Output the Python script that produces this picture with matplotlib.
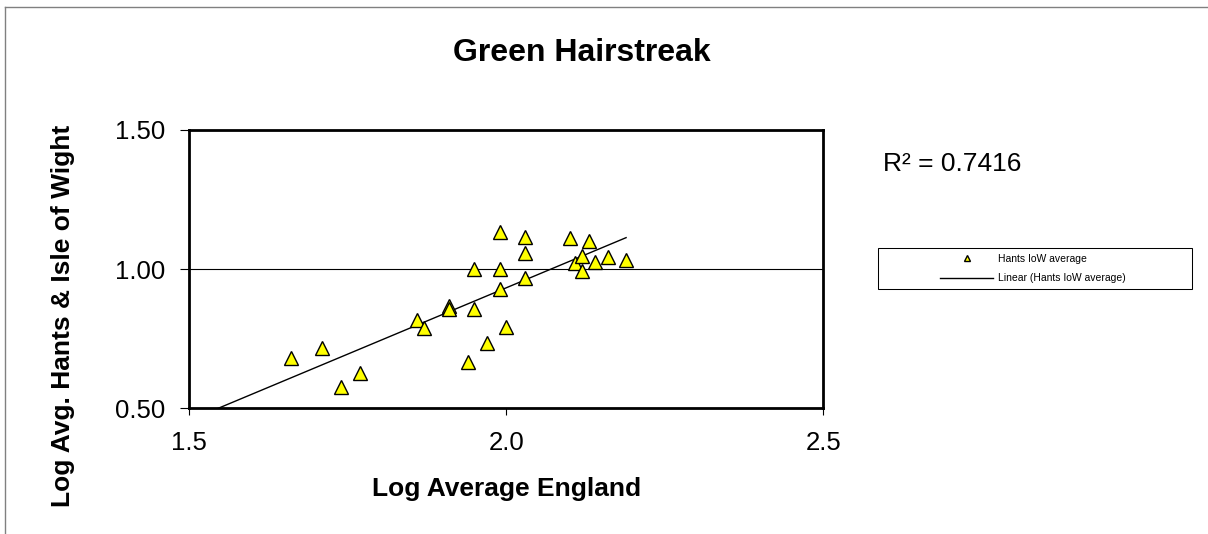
import matplotlib
matplotlib.use('Agg')
import matplotlib.pyplot as plt
import matplotlib.ticker as ticker
from matplotlib.lines import Line2D
from matplotlib.patches import Rectangle
import numpy as np

plt.rcParams['font.family'] = ['Liberation Sans', 'DejaVu Sans']

# Values
log_avg_england = [1.660, 1.709, 1.740, 1.769, 1.859, 1.870, 1.910, 1.910, 1.940,
                   1.949, 1.949, 1.970, 1.990, 1.990, 1.990, 2.000, 2.030, 2.030,
                   2.030, 2.100, 2.108, 2.119, 2.120, 2.130, 2.140, 2.160, 2.189]
log_avg_hants = [0.680, 0.716, 0.578, 0.626, 0.817, 0.787, 0.869, 0.856, 0.665,
                 1.001, 0.857, 0.736, 1.135, 1.001, 0.928, 0.793, 1.114, 1.057,
                 0.967, 1.111, 1.021, 1.047, 0.994, 1.101, 1.025, 1.045, 1.034]

# Excel linear trendline
trend_slope = 0.953
trend_intercept = -0.973
r_squared_text = 'R² = 0.7416'

x_ticks = [1.5, 2.0, 2.5]
y_ticks = [0.50, 1.00, 1.50]

series_label = 'Hants IoW average'
trend_label = 'Linear (Hants IoW average)'

fig = plt.figure(figsize=(12.08, 5.34), dpi=100)
ax = fig.add_axes([0.1567, 0.2354, 0.5248, 0.5212])

pts, = ax.plot(log_avg_england, log_avg_hants, linestyle='none', marker='^',
               markersize=10, markerfacecolor='#FFFF00', markeredgecolor='black',
               markeredgewidth=1.0, label=series_label, zorder=4)

trend_x = np.array([x_ticks[0], max(log_avg_england)])
trend_y = trend_slope * trend_x + trend_intercept
line, = ax.plot(trend_x, trend_y, color='black', linewidth=1.0, label=trend_label, zorder=3)

ax.set_xlim(x_ticks[0], x_ticks[-1])
ax.set_ylim(y_ticks[0], y_ticks[-1])
ax.set_xticks(x_ticks)
ax.set_yticks(y_ticks)
ax.xaxis.set_major_formatter(ticker.FormatStrFormatter('%.1f'))
ax.yaxis.set_major_formatter(ticker.FormatStrFormatter('%.2f'))
ax.tick_params(axis='y', direction='out', length=6.5, width=0.8, pad=11, labelsize=18.5)
ax.tick_params(axis='x', direction='out', length=5, width=0.8, pad=11, labelsize=18.5)
ax.yaxis.grid(True, color='black', linewidth=0.8)
ax.set_axisbelow(True)
for sp in ax.spines.values():
    sp.set_linewidth(2.0)

ax.set_xlabel('Log Average England', fontsize=19, fontweight='bold', labelpad=16)
fig.text(63 / 1208, 1 - 316 / 534, 'Log Avg. Hants & Isle of Wight', rotation=90,
         fontsize=19, fontweight='bold', ha='center', va='center')

fig.text(582 / 1208, 1 - 53 / 534, 'Green Hairstreak', fontsize=23, fontweight='bold',
         ha='center', va='center')
fig.text(883 / 1208, 1 - 164 / 534, r_squared_text, fontsize=19, ha='left', va='center')

# legend, content centred in a wide box
leg = fig.legend(handles=[pts, line], loc='center', bbox_to_anchor=(1033 / 1208, 1 - 268.8 / 534),
                 frameon=False, fontsize=7.5, markerscale=0.5, handlelength=5,
                 handletextpad=0.5, labelspacing=0.9)
fig.patches.append(Rectangle((878.3 / 1208, 1 - 289.3 / 534), 313.4 / 1208, 41 / 534,
                             transform=fig.transFigure, fill=False, edgecolor='black',
                             linewidth=0.75))

# outer chart border (top and left visible)
fig.add_artist(Line2D([5 / 1208, 1.0], [1 - 7 / 534, 1 - 7 / 534], transform=fig.transFigure,
                      color='#808080', linewidth=1.0))
fig.add_artist(Line2D([5 / 1208, 5 / 1208], [0.0, 1 - 7 / 534], transform=fig.transFigure,
                      color='#808080', linewidth=1.0))

fig.savefig('out.png', dpi=100)
